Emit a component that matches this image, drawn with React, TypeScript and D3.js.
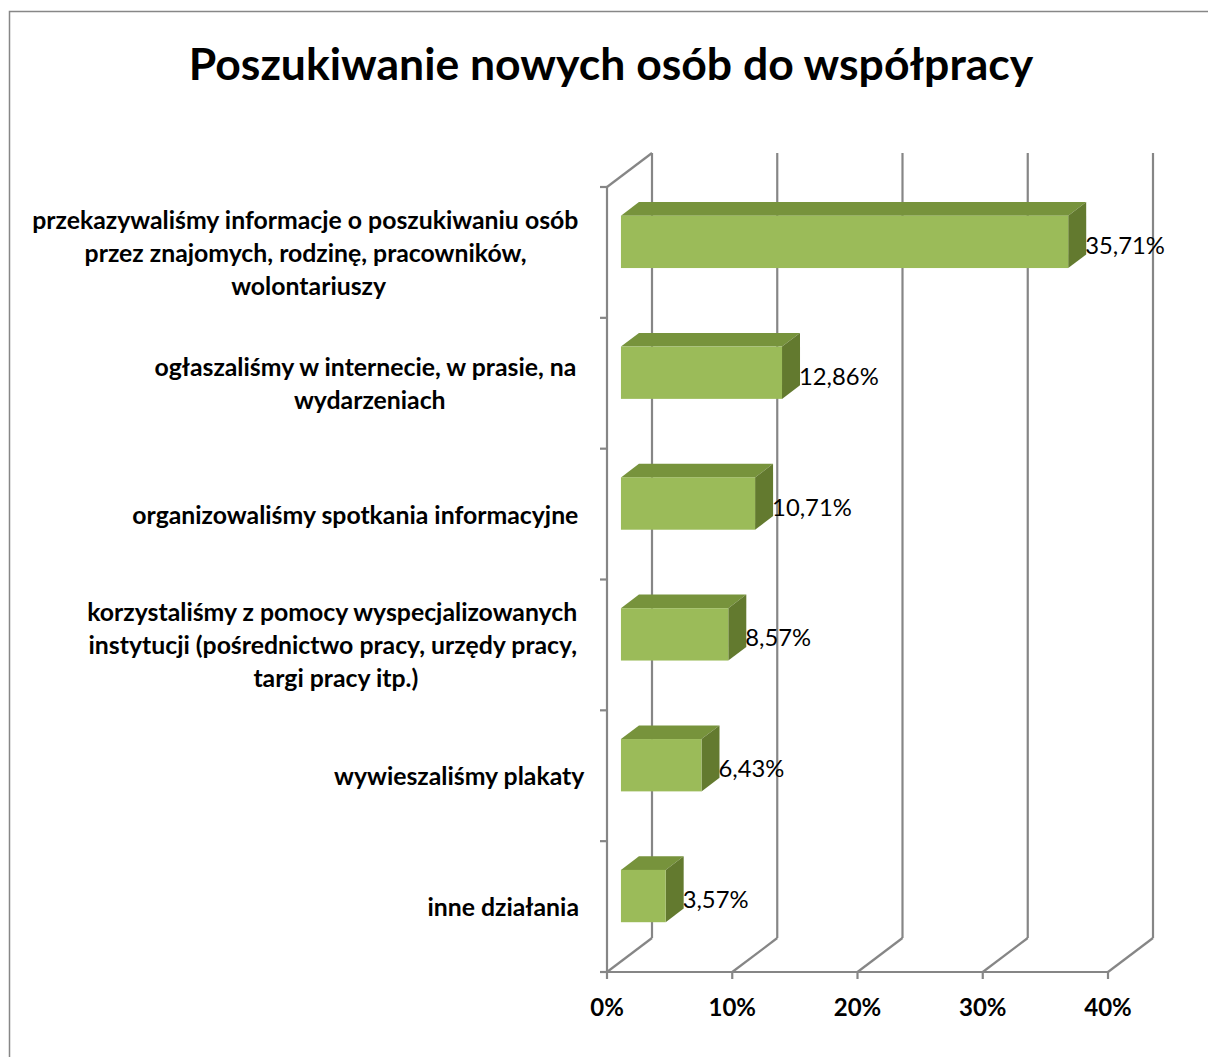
import React, { useMemo } from "react";
import * as d3 from "d3";

// data
const categoryLines: string[][] = [
  ["przekazywaliśmy informacje o poszukiwaniu osób ", "przez znajomych, rodzinę, pracowników, ", "wolontariuszy"],
  ["ogłaszaliśmy w internecie, w prasie, na ", "wydarzeniach"],
  ["organizowaliśmy spotkania informacyjne "],
  ["korzystaliśmy z pomocy wyspecjalizowanych ", "instytucji (pośrednictwo pracy, urzędy pracy, ", "targi pracy itp.)"],
  ["wywieszaliśmy plakaty"],
  ["inne działania "],
];
const values = [35.71, 12.86, 10.71, 8.57, 6.43, 3.57];
const xTicks = [0, 10, 20, 30, 40];
const title = "Poszukiwanie nowych osób do współpracy";

const W = 1208;
const H = 1057;
const FONT = "Lato, 'Open Sans', sans-serif";

const fmtPct = (v: number) => v.toFixed(2).replace(".", ",") + "%";

let ctx: CanvasRenderingContext2D | null = null;
function measure(text: string, font: string) {
  if (!ctx) ctx = document.createElement("canvas").getContext("2d");
  if (!ctx) return text.length * 10;
  ctx.font = font;
  return ctx.measureText(text).width;
}

export default function App() {
  // front plane of the 3d box, plus the depth offset to the back wall
  const left = 607;
  const right = 1108;
  const top = 187;
  const bottom = 972;
  const depth = { dx: 45, dy: -34 };
  const barDepth = [0.31, 0.71];
  const gridColor = "#868686";

  const x = useMemo(() => d3.scaleLinear().domain([0, 40]).range([left, right]), []);
  const y = useMemo(
    () => d3.scaleBand<number>().domain(d3.range(values.length)).range([top, bottom]),
    []
  );

  const labelSize = 24.8;
  const labelFont = `bold ${labelSize}px ${FONT}`;
  const labelRight = 585;
  const lineH = 33;

  const barH = y.bandwidth() * 0.4;
  const bx = depth.dx * barDepth[0];
  const by = depth.dy * barDepth[0];
  const sx = depth.dx * (barDepth[1] - barDepth[0]);
  const sy = depth.dy * (barDepth[1] - barDepth[0]);

  const boundaries = d3.range(values.length + 1).map((i) => top + i * y.step());

  return (
    <div style={{ position: "fixed", left: 0, top: 0, width: W, height: H, background: "#fff" }}>
      <svg width={W} height={H} style={{ display: "block" }}>
        <rect x={9.5} y={11.5} width={1300} height={1200} fill="#fff" stroke="#878787" strokeWidth={1.5} />

        <text x={611} y={80} textAnchor="middle" fontFamily={FONT} fontWeight="bold" fontSize={44.5} fill="#000">
          {title}
        </text>

        {/* walls: back verticals, floor diagonals */}
        <g stroke={gridColor} strokeWidth={2.2} fill="none">
          {xTicks.map((t) => (
            <g key={t}>
              <line x1={x(t) + depth.dx} x2={x(t) + depth.dx} y1={top + depth.dy} y2={bottom + depth.dy} />
              <line x1={x(t)} x2={x(t) + depth.dx} y1={bottom} y2={bottom + depth.dy} />
              <line x1={x(t)} x2={x(t)} y1={bottom} y2={bottom + 7} />
            </g>
          ))}
          <line x1={left} x2={left + depth.dx} y1={top} y2={top + depth.dy} />
          <line x1={left} x2={left} y1={top} y2={bottom} />
          <line x1={left} x2={right} y1={bottom} y2={bottom} />
          {boundaries.map((b, i) => (
            <line key={i} x1={left - 7} x2={left} y1={b} y2={b} />
          ))}
        </g>

        {/* bars */}
        {values.map((v, i) => {
          const x0 = x(0) + bx;
          const x1 = x(v) + bx;
          const cy = (y(i) ?? 0) + y.bandwidth() / 2 + by;
          const y0 = cy - barH / 2;
          const y1 = cy + barH / 2;
          return (
            <g key={i}>
              <path d={`M${x0},${y0}L${x0 + sx},${y0 + sy}L${x1 + sx},${y0 + sy}L${x1},${y0}Z`} fill="#77933c" />
              <path d={`M${x1},${y0}L${x1 + sx},${y0 + sy}L${x1 + sx},${y1 + sy}L${x1},${y1}Z`} fill="#637a2f" />
              <rect x={x0} y={y0} width={x1 - x0} height={y1 - y0} fill="#9bbb59" />
              <text
                x={x1 + sx - 1}
                y={cy + 3}
                dominantBaseline="central"
                fontFamily={FONT}
                fontSize={23.8}
                fill="#000"
              >
                {fmtPct(v)}
              </text>
            </g>
          );
        })}

        {/* category labels */}
        {categoryLines.map((lines, i) => {
          const widths = lines.map((l) => measure(l, labelFont));
          const blockW = Math.max(...widths);
          const cx = labelRight - blockW / 2;
          const cy = (y(i) ?? 0) + y.bandwidth() / 2;
          const y0 = cy - ((lines.length - 1) * lineH) / 2;
          return (
            <g key={i}>
              {lines.map((l, j) => (
                <text
                  key={j}
                  x={cx - widths[j] / 2}
                  y={y0 + j * lineH}
                  dominantBaseline="central"
                  fontFamily={FONT}
                  fontWeight="bold"
                  fontSize={labelSize}
                  fill="#000"
                >
                  {l}
                </text>
              ))}
            </g>
          );
        })}

        {/* value axis labels */}
        {xTicks.map((t) => (
          <text
            key={t}
            x={x(t)}
            y={1006}
            textAnchor="middle"
            dominantBaseline="central"
            fontFamily={FONT}
            fontWeight="bold"
            fontSize={24}
            fill="#000"
          >
            {t}%
          </text>
        ))}
      </svg>
    </div>
  );
}
